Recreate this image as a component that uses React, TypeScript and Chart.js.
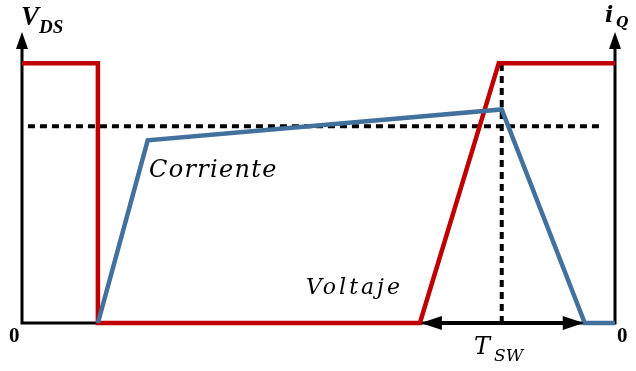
import React, { useEffect, useRef } from "react";
import { Chart, registerables } from "chart.js";

Chart.register(...registerables);

// Time base of one switching period (arbitrary units, 0..100) and normalised levels
const voltageTime = [0, 12.8, 12.8, 67.1, 80.4, 100];
const voltageLevel = [1, 1, 0, 0, 1, 1];

const currentTime = [12.8, 21.2, 80.9, 94.9, 100];
const currentLevel = [0, 0.703, 0.822, 0, 0];

const refLevelTime = [1, 97.5];
const refLevel = 0.757;

const switchMarkTime = 80.9;
const switchInterval = [67.1, 94.9];

const axisTop = 1.12;
const timeMax = 100;

const RED = "#C00000";
const BLUE = "#41719C";

const pts = (xs: number[], ys: number[]) => xs.map((x, i) => ({ x, y: ys[i] }));

const decorations = {
  id: "decorations",
  beforeDatasetsDraw(chart: any) {
    const { ctx, scales } = chart;
    const xs = scales.x;
    const ys = scales.y;
    const x0 = xs.getPixelForValue(0);
    const x1 = xs.getPixelForValue(timeMax);
    const yb = ys.getPixelForValue(0);
    const yt = ys.getPixelForValue(axisTop);
    ctx.save();
    ctx.strokeStyle = "#000";
    ctx.fillStyle = "#000";
    ctx.lineWidth = 3;
    ctx.lineCap = "butt";
    ctx.beginPath();
    ctx.moveTo(x0, yt + 10);
    ctx.lineTo(x0, yb);
    ctx.lineTo(x1, yb);
    ctx.lineTo(x1, yt + 10);
    ctx.stroke();
    const head = (x: number) => {
      ctx.beginPath();
      ctx.moveTo(x, yt);
      ctx.lineTo(x - 6, yt + 17);
      ctx.lineTo(x + 6, yt + 17);
      ctx.closePath();
      ctx.fill();
    };
    head(x0);
    head(x1);
    ctx.restore();
  },
  afterDatasetsDraw(chart: any) {
    const { ctx, scales } = chart;
    const xs = scales.x;
    const ys = scales.y;
    const yb = ys.getPixelForValue(0);
    const a = xs.getPixelForValue(switchInterval[0]);
    const b = xs.getPixelForValue(switchInterval[1]);
    ctx.save();
    // double-headed arrow for the switching interval
    ctx.strokeStyle = "#000";
    ctx.fillStyle = "#000";
    ctx.lineWidth = 4;
    ctx.beginPath();
    ctx.moveTo(a + 15, yb);
    ctx.lineTo(b - 15, yb);
    ctx.stroke();
    ctx.beginPath();
    ctx.moveTo(a + 1, yb);
    ctx.lineTo(a + 22, yb - 7);
    ctx.lineTo(a + 22, yb + 7);
    ctx.closePath();
    ctx.fill();
    ctx.beginPath();
    ctx.moveTo(b - 1, yb);
    ctx.lineTo(b - 22, yb - 7);
    ctx.lineTo(b - 22, yb + 7);
    ctx.closePath();
    ctx.fill();

    ctx.textBaseline = "alphabetic";
    ctx.textAlign = "left";
    // axis titles
    ctx.font = "bold italic 27px 'Liberation Serif'";
    ctx.fillText("V", 21, 25);
    ctx.font = "bold italic 19px 'Liberation Serif'";
    ctx.fillText("DS", 39, 33);
    ctx.font = "bold italic 22px 'DejaVu Serif'";
    ctx.fillText("i", 605, 22);
    ctx.font = "bold italic 14px 'DejaVu Serif'";
    ctx.fillText("Q", 616, 27);
    // origin marks
    ctx.font = "bold 21px 'Liberation Serif'";
    ctx.fillText("0", 9, 342);
    ctx.fillText("0", 617, 342);
    // trace names
    ctx.font = "italic 24px 'DejaVu Serif'";
    (ctx as any).letterSpacing = "1.3px";
    ctx.fillText("Corriente", 149, 177);
    ctx.font = "italic 22px 'DejaVu Serif'";
    (ctx as any).letterSpacing = "3px";
    ctx.fillText("Voltaje", 306, 294);
    (ctx as any).letterSpacing = "0px";
    ctx.font = "italic 24px 'DejaVu Serif'";
    ctx.fillText("T", 474, 354);
    ctx.font = "italic 17px 'DejaVu Serif'";
    ctx.fillText("SW", 494, 361);
    ctx.restore();
  },
};

export default function App() {
  const ref = useRef<HTMLCanvasElement | null>(null);
  useEffect(() => {
    if (!ref.current) return;
    const chart = new Chart(ref.current, {
      type: "line",
      data: {
        datasets: [
          {
            data: pts(refLevelTime, [refLevel, refLevel]),
            borderColor: "#000",
            borderWidth: 4,
            borderDash: [7, 5],
            pointRadius: 0,
            order: 3,
          },
          {
            data: [
              { x: switchMarkTime, y: 0 },
              { x: switchMarkTime, y: 1 },
            ],
            borderColor: "#000",
            borderWidth: 4,
            borderDash: [7, 5],
            pointRadius: 0,
            order: 3,
          },
          {
            data: pts(voltageTime, voltageLevel),
            borderColor: RED,
            borderWidth: 4.5,
            pointRadius: 0,
            borderJoinStyle: "miter",
            order: 2,
          },
          {
            data: pts(currentTime, currentLevel),
            borderColor: BLUE,
            borderWidth: 4.5,
            pointRadius: 0,
            borderJoinStyle: "miter",
            order: 1,
          },
        ],
      },
      options: {
        animation: false,
        responsive: false,
        events: [],
        layout: { padding: { left: 22, right: 21, top: 32, bottom: 48 } },
        elements: { line: { tension: 0 } },
        datasets: { line: { clip: false as any } } as any,
        scales: {
          x: { type: "linear", min: 0, max: timeMax, display: false },
          y: { type: "linear", min: 0, max: axisTop, display: false },
        },
        plugins: { legend: { display: false }, tooltip: { enabled: false } },
      },
      plugins: [decorations],
    });
    return () => chart.destroy();
  }, []);
  return (
    <div style={{ position: "fixed", left: 0, top: 0, width: 636, height: 371, background: "#fff" }}>
      <canvas ref={ref} width={636} height={371} style={{ display: "block" }} />
    </div>
  );
}
